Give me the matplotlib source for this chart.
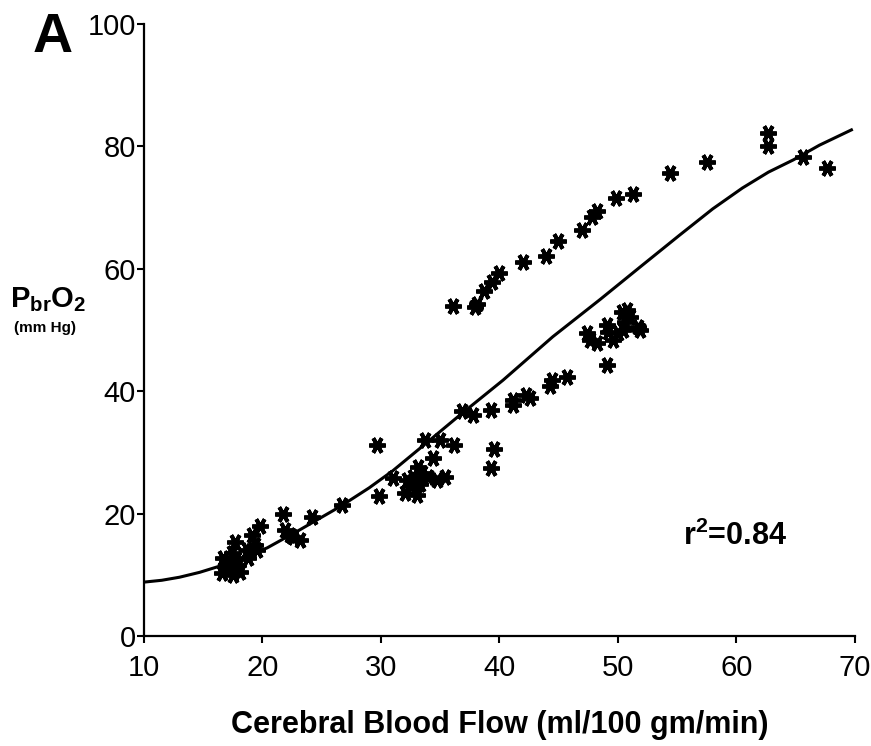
import matplotlib.pyplot as plt

plt.rcParams['font.family'] = ['Liberation Sans', 'DejaVu Sans']
plt.rcParams['mathtext.fontset'] = 'custom'
plt.rcParams['mathtext.rm'] = 'Liberation Sans:bold'
plt.rcParams['mathtext.bf'] = 'Liberation Sans:bold'

# cerebral blood flow (x) vs brain tissue oxygen (y)
cbf = [16.6, 17.0, 16.7, 17.4, 17.7, 17.5, 17.9, 17.3, 18.1, 18.7, 19.1, 19.4,
       18.8, 19.8, 19.5, 21.7, 21.9, 22.3, 23.2, 22.6, 24.2, 17.0, 17.8,
       26.7, 29.7, 29.8, 31.0, 32.2, 32.0, 33.0, 32.7, 33.1, 33.5, 34.0, 34.7,
       35.4, 34.4, 33.7, 35.0, 36.2, 36.8, 37.8, 39.3, 39.5, 39.3, 41.1, 41.1,
       42.2, 42.6, 44.4, 44.3, 45.7, 32.5, 33.3,
       47.4, 47.6, 48.2, 49.1, 49.2, 49.6, 50.0, 50.3, 50.8, 50.6, 50.4, 51.9,
       49.1, 51.0, 51.7,
       36.1, 37.9, 38.1, 38.7, 39.4, 40.0, 42.0, 43.9, 44.9, 47.0, 47.8, 48.2,
       49.8, 51.3, 54.4, 57.5, 62.7, 62.7, 65.6, 67.6]
pbro2 = [10.3, 11.3, 12.7, 13.5, 15.4, 10.0, 11.6, 11.9, 10.5, 14.1, 16.5, 14.9,
         12.7, 18.0, 14.1, 19.9, 17.3, 16.5, 15.7, 16.2, 19.4, 12.0, 12.5,
         21.4, 31.2, 22.9, 25.8, 25.5, 23.4, 23.0, 26.0, 27.6, 26.6, 26.0, 25.5,
         26.0, 29.1, 32.0, 32.0, 31.2, 36.8, 36.1, 36.9, 30.6, 27.5, 38.6, 37.7,
         39.4, 38.9, 41.8, 40.8, 42.3, 24.5, 24.8,
         49.5, 48.4, 47.9, 50.8, 49.7, 48.4, 49.5, 52.9, 53.3, 51.3, 50.0, 50.0,
         44.3, 52.1, 50.5,
         53.9, 53.8, 54.3, 56.4, 57.8, 59.3, 61.1, 62.1, 64.5, 66.4, 68.5, 69.4,
         71.6, 72.2, 75.6, 77.5, 82.2, 80.1, 78.3, 76.5]

# fitted curve
fit_x = [10, 11.5, 13, 14.7, 16.2, 18.3, 20.4, 23.2, 26.6, 29.0, 31.0, 33.5,
         36.6, 40.3, 44.5, 48.5, 52.0, 55.2, 58.0, 60.5, 62.7, 64.8, 67.0, 69.7]
fit_y = [8.8, 9.1, 9.6, 10.4, 11.3, 12.7, 14.4, 17.4, 21.2, 24.2, 27.0, 31.0,
         36.0, 41.8, 48.9, 55.0, 60.5, 65.5, 69.8, 73.2, 75.8, 77.8, 80.2, 82.7]

fig = plt.figure(figsize=(8.71, 7.46), dpi=100)
ax = fig.add_axes([0.1653, 0.1475, 0.8163, 0.8203])

ax.plot(fit_x, fit_y, color='black', lw=2.2, zorder=2)
ax.plot(cbf, pbro2, ls='none', marker=(6, 2, 90), ms=12, mew=2.8,
        color='black', zorder=3)

ax.set_xlim(10, 70)
ax.set_ylim(0, 100)
ax.set_xticks(range(10, 71, 10))
ax.set_yticks(range(0, 101, 20))
ax.spines['top'].set_visible(False)
ax.spines['right'].set_visible(False)
ax.spines['left'].set_linewidth(1.6)
ax.spines['bottom'].set_linewidth(1.6)
ax.tick_params(direction='out', length=5, width=1.5, labelsize=21)
ax.tick_params(axis='y', pad=1)
ax.tick_params(axis='x', pad=8)

ax.set_xlabel('Cerebral Blood Flow (ml/100 gm/min)', fontsize=22,
              fontweight='bold', labelpad=20)

fig.text(53 / 871, 1 - 38 / 746, 'A', fontsize=40, fontweight='bold',
         ha='center', va='center')
fig.text(48 / 871, 1 - 300 / 746, r'$\mathbf{P_{br}O_2}$', fontsize=21,
         ha='center', va='center')
fig.text(45 / 871, 1 - 328 / 746, '(mm Hg)', fontsize=11, fontweight='bold',
         ha='center', va='center')
ax.text(59.9, 16.2, r'r$^\mathbf{2}$=0.84', fontsize=22, fontweight='bold',
        ha='center', va='center')

fig.savefig('out.png', dpi=100)
